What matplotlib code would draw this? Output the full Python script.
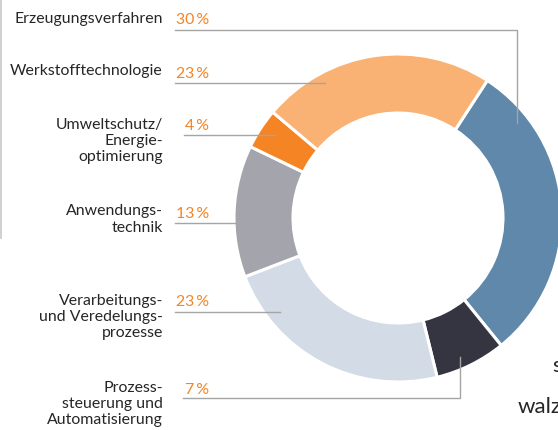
import matplotlib.pyplot as plt

# Anteile je Forschungsfeld (in %)
labels = ['Erzeugungsverfahren', 'Werkstofftechnologie', 'Umweltschutz/\nEnergie-\noptimierung',
          'Anwendungs-\ntechnik', 'Verarbeitungs-\nund Veredelungs-\nprozesse',
          'Prozess-\nsteuerung und\nAutomatisierung']
shares = [30, 23, 4, 13, 23, 7]
colors = ['#5f88aa', '#f9b174', '#f58424', '#a3a4ac', '#d3dbe6', '#343541']
# reihenfolge im ring, im uhrzeigersinn ab ca. 1 uhr
ring_order = [0, 5, 4, 3, 2, 1]

W, H = 558, 430
fig = plt.figure(figsize=(W / 100, H / 100), dpi=100)
ax = fig.add_axes([0, 0, 1, 1])

plt.rcParams['font.family'] = ['Lato', 'DejaVu Sans']

def Y(y):
    # pixel-y von oben -> datenkoordinate
    return H - y

cx, cy, r = 398, 218, 164
ax.pie([shares[i] for i in ring_order], colors=[colors[i] for i in ring_order],
       startangle=57, counterclock=False, center=(cx, Y(cy)), radius=r,
       wedgeprops=dict(width=59, edgecolor='white', linewidth=2.2), frame=True)
ax.set_xlim(0, W)
ax.set_ylim(0, H)
ax.set_aspect('equal')
ax.axis('off')

# beschriftung: y der ersten zeile, start der linie, linienverlauf
text_y = [19, 72, 125, 212, 301, 388]
line_x0 = [175, 175, 184, 175, 175, 183]
leaders = [
    [(517, 30), (517, 123)],
    [(325, 83)],
    [(275, 135)],
    [(250, 223)],
    [(280, 312)],
    [(460, 398), (460, 357)],
]

line_col = '#a5a5a5'
for i, lab in enumerate(labels):
    ax.text(163, Y(text_y[i] - 7.5), lab, ha='right', va='top', fontsize=11.4,
            color='#262626', linespacing=1.22)
    ax.text(209, Y(text_y[i] + 1.5), f'{shares[i]}\u2009%', ha='right', va='center',
            fontsize=11.4, color='#f58424')
    pts = [(line_x0[i], leaders[i][0][1])] + leaders[i]
    ax.plot([p[0] for p in pts], [Y(p[1]) for p in pts], color=line_col, lw=1.0,
            solid_joinstyle='miter')

# rahmenlinie links
ax.plot([1, 1], [Y(0), Y(238)], color='#c8c8c8', lw=1.2)

# angeschnittener fliesstext rechts (im original am rand abgeschnitten)
ax.text(552, Y(366), 's', fontsize=16, color='#262626', va='center', ha='left')
ax.text(518, Y(407), 'walz', fontsize=16, color='#262626', va='center', ha='left')

fig.savefig('out.png', dpi=100)
